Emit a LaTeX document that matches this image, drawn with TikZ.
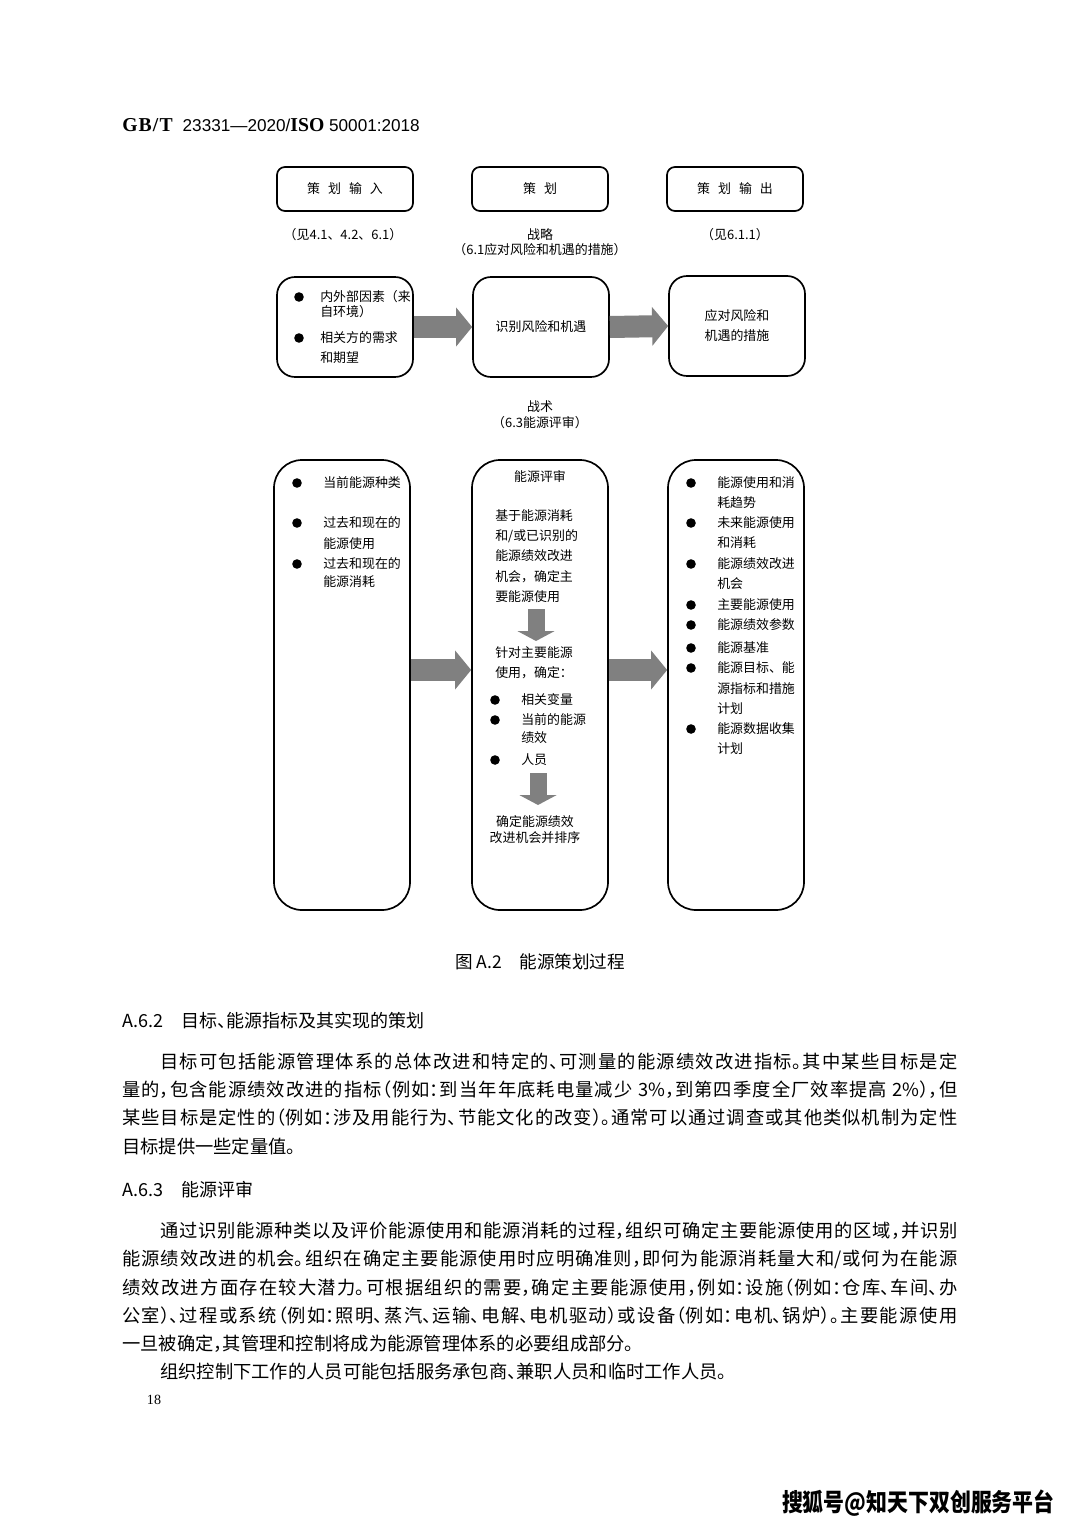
\documentclass[tikz,border=0pt]{standalone}
\usepackage{fontspec}
\usepackage{graphicx}
\setmainfont{Liberation Serif}
\newfontfamily\cjk{Noto Sans CJK SC}
\newfontfamily\cjkh{Noto Sans CJK SC}[RawFeature=+halt]
\newfontfamily\latsans{Liberation Sans}
\usetikzlibrary{arrows.meta,calc}
% one justified line of body text
\newcommand{\jline}[2]{\parbox{#1}{\XeTeXlinebreaklocale "zh"\XeTeXlinebreakskip=0pt plus 1pt\parfillskip=0pt\tolerance=10000\hbadness=10000\noindent#2}}
\begin{document}
\begin{tikzpicture}[x=0.25mm,y=-0.25mm,
  box/.style={draw,line width=1.2pt,minimum width=34mm,inner sep=0pt,font=\cjk\fontsize{9.2pt}{14.2pt}\selectfont},
  headbox/.style={box,rounded corners=2mm,minimum height=11mm},
  midbox/.style={box,rounded corners=4.5mm,minimum height=25mm},
  tallbox/.style={box,rounded corners=7mm,minimum height=112.5mm},
  txt/.style={inner sep=0pt,font=\cjk\fontsize{9.2pt}{11pt}\selectfont},
  dot/.style={circle,fill,inner sep=0pt,minimum size=2.4mm},
  fatarrow/.style={color=black!50,line width=5.5mm,-{Triangle[length=4mm 0,width=9.5mm 0]}},
  downarrow/.style={color=black!50,line width=4.25mm,-{Triangle[length=2.5mm 0,width=9.25mm 0]}},
  body/.style={inner sep=0pt,anchor=west,font=\cjkh\fontsize{13pt}{16pt}\selectfont},
  head/.style={inner sep=0pt,anchor=west,font=\cjkh\fontsize{12.8pt}{15pt}\selectfont}]
\fill[white] (0,0) rectangle (1080,1526);
\useasboundingbox (0,0) rectangle (1080,1526);

\node[inner sep=0pt,anchor=west] (std) at (122,125) {\fontsize{14pt}{16pt}\selectfont\textbf{G\kern.8pt B\kern.8pt/\kern.8pt T}\kern2.5mm{\latsans\fontsize{12.2pt}{14pt}\selectfont 23331—2020/}\textbf{ISO}\kern1.2mm{\latsans\fontsize{12.2pt}{14pt}\selectfont 50001:2018}};

% top row
\node[headbox] (pin) at (345,189) {策\kern2mm 划\kern2mm 输\kern2mm 入};
\node[headbox] (plan) at (540,189) {策\kern2mm 划};
\node[headbox] (pout) at (735,189) {策\kern2mm 划\kern2mm 输\kern2mm 出};
\node[txt] (lin) at (343,235) {（见4.1、4.2、6.1）};
\node[txt] (lstr) at (540,235) {战略};
\node[txt] (lstr2) at (540,250) {（6.1应对风险和机遇的措施）};
\node[txt] (lout) at (735,235) {（见6.1.1）};

% strategy row
\node[midbox] (rin) at (345,327) {};
\node[midbox] (rid) at (541,327) {识别风险和机遇};
\node[midbox,align=center] (ract) at (737,326) {应对风险和\\机遇的措施};
\foreach \y in {297,338} \node[dot] (rdot\y) at (299,\y) {};
\foreach \y/\t [count=\i] in {297/内外部因素（来,312/自环境）,338/相关方的需求,358/和期望}
  \node[txt,anchor=west] (rin\i) at (320,\y) {\t};
\draw[fatarrow] (rin.east) -- (rid.west);
\draw[fatarrow] (rid.east) -- (ract.west);

\node[txt] (ltac) at (540,407) {战术};
\node[txt] (ltac2) at (540,423) {（6.3能源评审）};

% tactics row
\node[tallbox] (tin) at (342,685) {};
\node[tallbox] (trev) at (540,685) {};
\node[tallbox] (tout) at (736,685) {};
\draw[fatarrow] ($(tin.east)+(0,-15)$) -- ($(trev.west)+(0,-15)$);
\draw[fatarrow] ($(trev.east)+(0,-15)$) -- ($(tout.west)+(0,-15)$);

\foreach \y in {483,523,564} \node[dot] (tdot\y) at (297,\y) {};
\foreach \y/\t [count=\i] in {483/当前能源种类,523/过去和现在的,544/能源使用,564/过去和现在的,582/能源消耗}
  \node[txt,anchor=west] (tin\i) at (323,\y) {\t};

\node[txt] (trev0) at (540,477) {能源评审};
\foreach \y/\t [count=\i] in {516/基于能源消耗,536/{和/或已识别的},556/能源绩效改进,577/机会，确定主,597/要能源使用,653/针对主要能源,673/使用，确定：}
  \node[txt,anchor=west] (trev\i) at (495,\y) {\t};
\foreach \y in {700,720,760} \node[dot] (mdot\y) at (495,\y) {};
\foreach \y/\t [count=\i] in {700/相关变量,720/当前的能源,738/绩效,760/人员}
  \node[txt,anchor=west] (tvar\i) at (521,\y) {\t};
\node[txt] (tprio1) at (535,822) {确定能源绩效};
\node[txt] (tprio2) at (535,838) {改进机会并排序};
\coordinate (d1s) at (536,609); \coordinate (d1e) at (536,641);
\coordinate (d2s) at (538,773); \coordinate (d2e) at (538,805);
\draw[downarrow] (d1s) -- (d1e);
\draw[downarrow] (d2s) -- (d2e);

\foreach \y in {483,523,564,605,625,648,668,729} \node[dot] (odot\y) at (691,\y) {};
\foreach \y/\t [count=\i] in {483/能源使用和消,503/耗趋势,523/未来能源使用,543/和消耗,564/能源绩效改进,584/机会,605/主要能源使用,625/能源绩效参数,648/能源基准,668/能源目标、能,689/源指标和措施,709/计划,729/能源数据收集,749/计划}
  \node[txt,anchor=west] (tout\i) at (717,\y) {\t};

% caption and text
\node[inner sep=0pt,font=\cjk\fontsize{12.5pt}{15pt}\selectfont] (cap) at (540,962) {图\ A.2\quad 能源策划过程};

\node[head] (h1) at (122,1021) {A.6.2\quad 目标、能源指标及其实现的策划};
\node[body] (p11) at (160,1062) {\jline{199.25mm}{目标可包括能源管理体系的总体改进和特定的、可测量的能源绩效改进指标。其中某些目标是定}};
\node[body] (p12) at (122,1090) {\jline{208.75mm}{量的，包含能源绩效改进的指标（例如：到当年年底耗电量减少 3\%，到第四季度全厂效率提高 2\%），但}};
\node[body] (p13) at (122,1118) {\jline{208.75mm}{某些目标是定性的（例如：涉及用能行为、节能文化的改变）。通常可以通过调查或其他类似机制为定性}};
\node[body] (p14) at (122,1147) {目标提供一些定量值。};

\node[head] (h2) at (122,1190) {A.6.3\quad 能源评审};
\node[body] (p21) at (160,1231) {\jline{199.25mm}{通过识别能源种类以及评价能源使用和能源消耗的过程，组织可确定主要能源使用的区域，并识别}};
\node[body] (p22) at (122,1259) {\jline{208.75mm}{能源绩效改进的机会。组织在确定主要能源使用时应明确准则，即何为能源消耗量大和/或何为在能源}};
\node[body] (p23) at (122,1288) {\jline{208.75mm}{绩效改进方面存在较大潜力。可根据组织的需要，确定主要能源使用，例如：设施（例如：仓库、车间、办}};
\node[body] (p24) at (122,1316) {\jline{208.75mm}{公室）、过程或系统（例如：照明、蒸汽、运输、电解、电机驱动）或设备（例如：电机、锅炉）。主要能源使用}};
\node[body] (p25) at (122,1344) {一旦被确定，其管理和控制将成为能源管理体系的必要组成部分。};
\node[body] (p26) at (160,1372) {组织控制下工作的人员可能包括服务承包商、兼职人员和临时工作人员。};

\node[inner sep=0pt,font=\fontsize{10pt}{12pt}\selectfont] (pg) at (154,1400) {18};
\node[inner sep=0pt,anchor=east] (wm) at (1055,1503) {\scalebox{0.85}[1]{\cjk\bfseries\fontsize{17.5pt}{20pt}\selectfont 搜狐号@知天下双创服务平台}};
\end{tikzpicture}
\end{document}
